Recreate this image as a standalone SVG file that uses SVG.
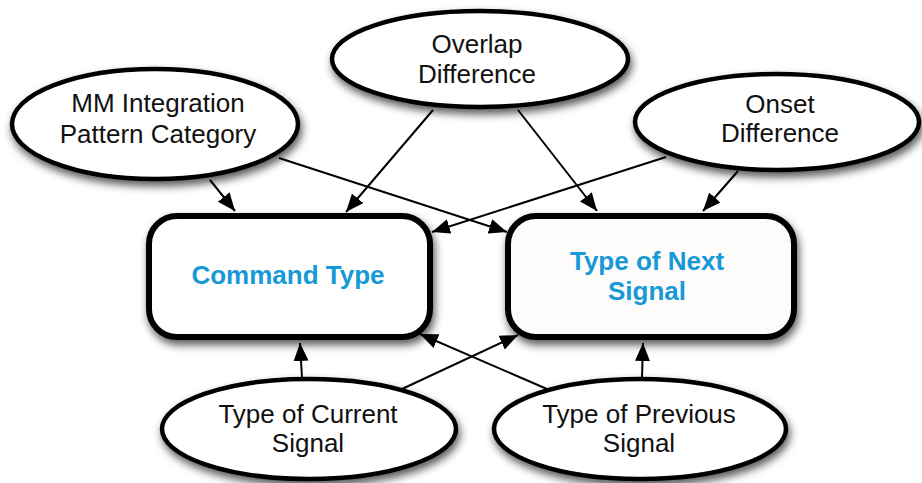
<svg xmlns="http://www.w3.org/2000/svg" width="922" height="483" viewBox="0 0 922 483">
  <defs>
    <filter id="shadow" x="-20%" y="-20%" width="140%" height="150%">
      <feDropShadow dx="2" dy="5" stdDeviation="4" flood-color="#000" flood-opacity="0.65"/>
    </filter>
    <marker id="arrow" markerUnits="userSpaceOnUse" markerWidth="19" markerHeight="16" refX="18" refY="7.5" orient="auto">
      <path d="M0,0 L18,7.5 L0,15 z" fill="#000"/>
    </marker>
  </defs>
  <style>
    .factor { fill: #fff; stroke: #000; stroke-width: 4.5; filter: url(#shadow); }
    .target { stroke: #000; stroke-width: 6; filter: url(#shadow); }
    .label { font-family: "Liberation Sans", Arial, Helvetica, sans-serif; font-size: 26px; fill: #111; text-anchor: middle; }
    .title { font-family: "Liberation Sans", Arial, Helvetica, sans-serif; font-size: 26px; font-weight: bold; fill: #1699d6; text-anchor: middle; }
    .edge { stroke: #000; stroke-width: 2; fill: none; marker-end: url(#arrow); }
  </style>

  <rect width="922" height="483" fill="#fff"/>

  <!-- factor nodes -->
  <g id="mm-integration">
    <ellipse class="factor" cx="155" cy="124" rx="143" ry="55"/>
    <text class="label" x="158" y="112">MM Integration</text>
    <text class="label" x="158" y="143">Pattern Category</text>
  </g>
  <g id="overlap-difference">
    <ellipse class="factor" cx="480" cy="59" rx="148" ry="48"/>
    <text class="label" x="477" y="53">Overlap</text>
    <text class="label" x="477" y="83">Difference</text>
  </g>
  <g id="onset-difference">
    <ellipse class="factor" cx="777" cy="122" rx="142" ry="48"/>
    <text class="label" x="780" y="113">Onset</text>
    <text class="label" x="780" y="142">Difference</text>
  </g>
  <g id="current-signal">
    <ellipse class="factor" cx="309" cy="429" rx="147" ry="50"/>
    <text class="label" x="308" y="423">Type of Current</text>
    <text class="label" x="308" y="452">Signal</text>
  </g>
  <g id="previous-signal">
    <ellipse class="factor" cx="640" cy="429" rx="146" ry="50"/>
    <text class="label" x="639" y="423">Type of Previous</text>
    <text class="label" x="639" y="452">Signal</text>
  </g>

  <!-- target nodes -->
  <g id="command-type">
    <rect class="target" x="149" y="216" width="281" height="121" rx="28" fill="#fff"/>
    <text class="title" x="288" y="284">Command Type</text>
  </g>
  <g id="next-signal">
    <rect class="target" x="508" y="216" width="286" height="121" rx="28" fill="#fdfcfa"/>
    <text class="title" x="647" y="270">Type of Next</text>
    <text class="title" x="647" y="300">Signal</text>
  </g>

  <!-- connectors -->
  <g id="connectors">
    <path class="edge" d="M210,180 L235,211"/>
    <path class="edge" d="M279,158 L507,232"/>
    <path class="edge" d="M433,110 L346,212"/>
    <path class="edge" d="M518,110 L597,211"/>
    <path class="edge" d="M666,157 L432,232"/>
    <path class="edge" d="M738,171 L703,211"/>
    <path class="edge" d="M302,378 L300,343"/>
    <path class="edge" d="M402,389 L518,335"/>
    <path class="edge" d="M547,389 L420,334"/>
    <path class="edge" d="M642,378 L643,343"/>
  </g>
</svg>
